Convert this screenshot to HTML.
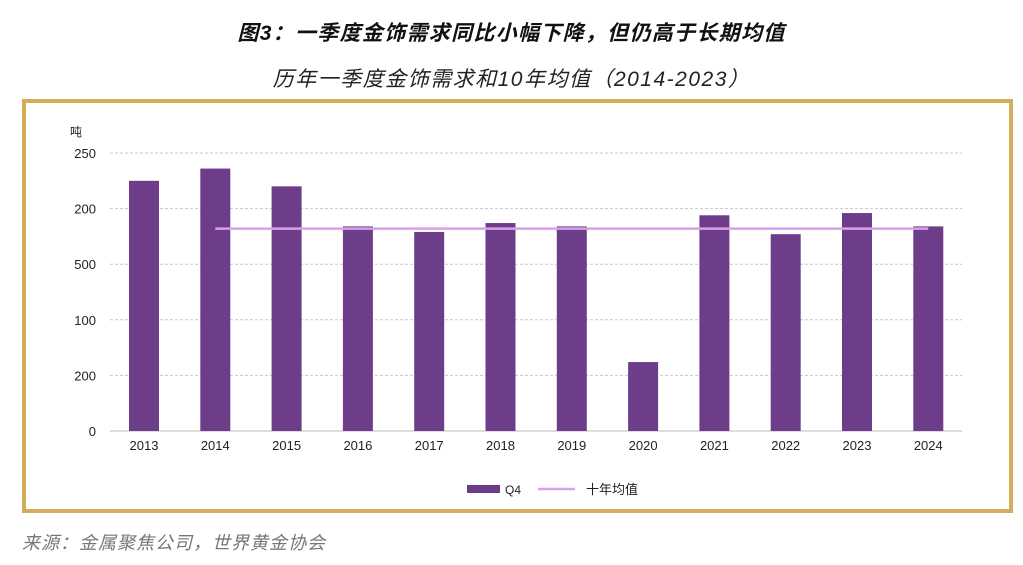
<!DOCTYPE html>
<html><head><meta charset="utf-8"><style>
body{margin:0;width:1023px;height:565px;background:#fff;overflow:hidden;font-family:"Liberation Sans","Noto Sans CJK SC",sans-serif;}
.t{position:absolute;left:0;width:1023px;text-align:center;}
</style></head><body>
<div class="t" style="top:17px;font-size:21px;letter-spacing:1.3px;font-weight:bold;font-style:italic;color:#111;">图3：一季度金饰需求同比小幅下降，但仍高于长期均值</div>
<div class="t" style="top:63px;font-size:21px;letter-spacing:1.5px;font-style:italic;color:#222;">历年一季度金饰需求和10年均值（2014-2023）</div>
<div style="position:absolute;left:22px;top:99px;width:983px;height:406px;border:4px solid #d3ae5a;"></div>
<svg id="c" width="1023" height="565" style="position:absolute;left:0;top:0;font-family:'Liberation Sans','Noto Sans CJK SC',sans-serif;"></svg>
<div style="position:absolute;left:22px;top:529px;font-size:18px;letter-spacing:1px;font-style:italic;color:#777;">来源：金属聚焦公司，世界黄金协会</div>
<script>
const categories=["2013","2014","2015","2016","2017","2018","2019","2020","2021","2022","2023","2024"];
const q4Values=[225,236,220,184,179,187,184,62,194,177,196,184];
const avgValue=182;
const tickValues=[0,50,100,150,200,250];
const tickLabels=["0","200","100","500","200","250"];
const svg=document.getElementById('c');const NS='http://www.w3.org/2000/svg';
function mk(t,a,txt){const e=document.createElementNS(NS,t);for(const k in a)e.setAttribute(k,a[k]);if(txt!=null)e.textContent=txt;svg.appendChild(e);return e;}
const y0=431,y1=153,vmax=250;const y=v=>y0-(v/vmax)*(y0-y1);
const x0=144,step=71.3;const x=i=>x0+i*step;
tickValues.forEach((v,i)=>{
 let g=mk('line',{x1:110,x2:962,y1:y(v),y2:y(v),stroke:v===0?'#bbb':'#c8c8c8','stroke-dasharray':v===0?'':'3,2'});
 
 
 let t=mk('text',{x:96,y:y(v)+5,'text-anchor':'end','font-size':13,fill:'#222'},tickLabels[i]);
 
 
});
let u=mk('text',{x:70,y:136,'font-size':12,fill:'#222'},'吨');


categories.forEach((c,i)=>{
 let b=mk('rect',{x:x(i)-15,y:y(q4Values[i]),width:30,height:y0-y(q4Values[i]),fill:'#6e3d8a'});
 
 
 let t=mk('text',{x:x(i),y:450,'text-anchor':'middle','font-size':13,fill:'#222'},c);
 
 
});
let l=mk('line',{x1:x(1),x2:x(11),y1:y(avgValue),y2:y(avgValue),stroke:'#d7a3e6','stroke-width':2.5});


let lb=mk('rect',{x:467,y:485,width:33,height:8,fill:'#6e3d8a'});


let lt=mk('text',{x:505,y:494,'font-size':12,fill:'#222'},'Q4');


let ll=mk('line',{x1:538,x2:575,y1:489,y2:489,stroke:'#d7a3e6','stroke-width':2.5});


let lt2=mk('text',{x:586,y:494,'font-size':13,fill:'#222'},'十年均值');


</script>
</body></html>
